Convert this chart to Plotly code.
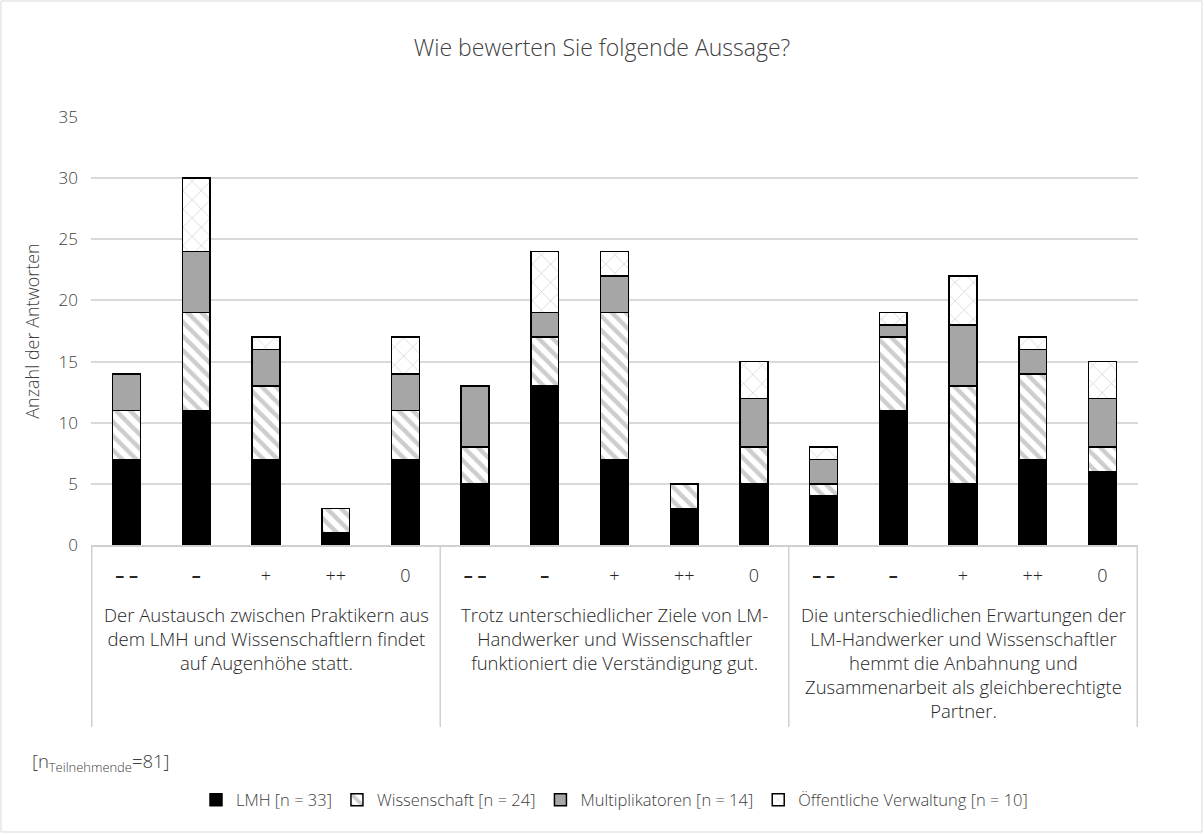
import plotly.graph_objects as go

# Statements (group labels) and answer categories
statements = [
    "Der Austausch zwischen Praktikern aus<br>dem LMH und Wissenschaftlern findet<br>auf Augenhöhe statt.",
    "Trotz unterschiedlicher Ziele von LM-<br>Handwerker und Wissenschaftler<br>funktioniert die Verständigung gut.",
    "Die unterschiedlichen Erwartungen der<br>LM-Handwerker und Wissenschaftler<br>hemmt die Anbahnung und<br>Zusammenarbeit als gleichberechtigte<br>Partner.",
]
answers = ["<b>– –</b>", "<b>–</b>", "+", "++", "0"]

# Counts per answer, statement by statement (15 values each)
lmh = [7, 11, 7, 1, 7,   5, 13, 7, 3, 5,   4, 11, 5, 7, 6]
wissenschaft = [4, 8, 6, 2, 4,   3, 4, 12, 2, 3,   1, 6, 8, 7, 2]
multiplikatoren = [3, 5, 3, 0, 3,   5, 2, 3, 0, 4,   2, 1, 5, 2, 4]
verwaltung = [0, 6, 1, 0, 3,   0, 5, 2, 0, 3,   1, 1, 4, 1, 3]

series_names = [
    "LMH [n = 33]",
    "Wissenschaft [n = 24]",
    "Multiplikatoren [n = 14]",
    "Öffentliche Verwaltung [n = 10]",
]

# one unique category id per (statement, answer) pair; ticks show the answer only
cat_ids = [f"S{i + 1} {a}" for i in range(len(statements)) for a in answers]
cat_text = [a for _ in statements for a in answers]

W, H = 1204, 834
L, R, T, B = 91, 66, 117, 289
PH = H - T - B
PW = W - L - R
TEXT = "#404040"
DARK = "#262626"
FONT = "Open Sans"


def py(px):
    """pixel row below the plot area -> paper y"""
    return -(px - (H - B)) / PH


fig = go.Figure()

styles = [
    dict(color="#000000"),
    dict(color="#ffffff", pattern=dict(shape="\\", fgcolor="#9c9c9c", bgcolor="#ffffff",
                                        size=10, solidity=0.45, fillmode="overlay")),
    dict(color="#a6a6a6"),
    dict(color="#ffffff", pattern=dict(shape="x", fgcolor="#9a9a9a", bgcolor="#ffffff",
                                        size=13, solidity=0.1, fillmode="overlay")),
]

for name, vals, st in zip(series_names, [lmh, wissenschaft, multiplikatoren, verwaltung], styles):
    marker = dict(color=st["color"], line=dict(color="#000000", width=1.5))
    if "pattern" in st:
        marker["pattern"] = st["pattern"]
    fig.add_trace(go.Bar(
        x=cat_ids, y=vals, name=name, marker=marker,
        hovertemplate="%{x}: %{y}<extra>" + name + "</extra>",
    ))

n_ans = len(answers)
annotations = []
shapes = []

# statement labels centred under each block of answers
for i, s in enumerate(statements):
    annotations.append(dict(
        text=s, xref="x", yref="paper", x=i * n_ans + (n_ans - 1) / 2, y=py(600),
        xanchor="center", yanchor="top", showarrow=False, align="center",
        font=dict(family=FONT, size=18.5, color=DARK, weight=300),
    ))

# dividers between statement blocks
for k in range(len(statements) + 1):
    xk = k * n_ans - 0.5
    shapes.append(dict(type="line", xref="x", yref="paper", x0=xk, x1=xk,
                       y0=0, y1=py(727), line=dict(color="#d0d0d0", width=1.5)))

annotations.append(dict(
    text="[n<sub>Teilnehmende</sub>=81]", xref="paper", yref="paper",
    x=(30 - L) / PW, y=py(762), xanchor="left", yanchor="middle", showarrow=False,
    font=dict(family=FONT, size=18.5, color=TEXT, weight=300)))

# thin frame around the whole chart
shapes.append(dict(type="rect", xref="paper", yref="paper",
                   x0=-(L - 1) / PW, x1=1 + (R - 2) / PW,
                   y0=-(B - 2) / PH, y1=1 + (T - 1) / PH,
                   line=dict(color="#d9d9d9", width=1), fillcolor="rgba(0,0,0,0)",
                   layer="below"))

fig.update_layout(
    width=W, height=H,
    margin=dict(l=L, r=R, t=T, b=B),
    barmode="stack",
    bargap=0.6,
    paper_bgcolor="#ffffff",
    plot_bgcolor="#ffffff",
    font=dict(family=FONT, size=16, color=TEXT, weight=300),
    title=dict(text="Wie bewerten Sie folgende Aussage?", x=0.5, xanchor="center",
               y=1 - 48 / H, yanchor="middle",
               font=dict(family=FONT, size=23, color=TEXT, weight=300)),
    showlegend=True,
    legend=dict(orientation="h", x=0.5, xanchor="center",
                y=py(800), yanchor="middle",
                font=dict(family=FONT, size=16.5, color=TEXT, weight=300),
                traceorder="normal", itemwidth=30),
    xaxis=dict(
        type="category",
        categoryorder="array", categoryarray=cat_ids,
        tickmode="array", tickvals=cat_ids, ticktext=cat_text,
        showline=True, linecolor="#d0d0d0", linewidth=1.5,
        tickfont=dict(family=FONT, size=18, color=DARK, weight=300),
        ticks="", ticklabelstandoff=14, showgrid=False,
    ),
    yaxis=dict(
        range=[0, 35], dtick=5, showgrid=True, gridcolor="#d9d9d9", gridwidth=1.5,
        zeroline=False, ticks="", ticklen=0, ticklabelstandoff=12,
        tickfont=dict(family=FONT, size=17, color=TEXT, weight=300),
        title=dict(text="Anzahl der Antworten", standoff=14,
                   font=dict(family=FONT, size=18, color=TEXT, weight=300)),
    ),
    annotations=annotations,
    shapes=shapes,
)

fig.write_html("out.html")
